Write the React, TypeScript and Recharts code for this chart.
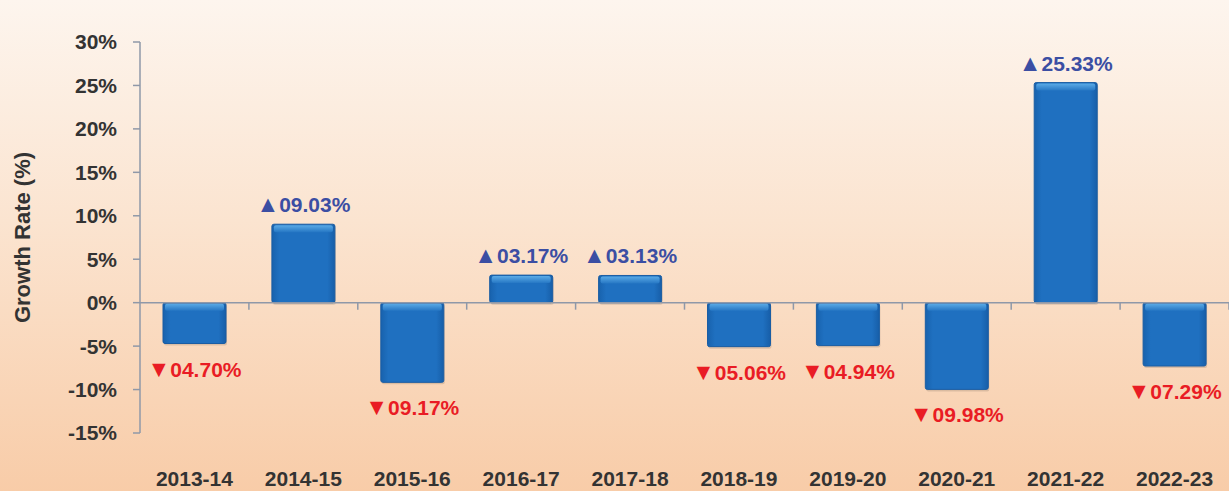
import React from "react"
import { BarChart, Bar, XAxis, YAxis, ReferenceLine, LabelList } from "recharts"

const years = ["2013-14", "2014-15", "2015-16", "2016-17", "2017-18", "2018-19", "2019-20", "2020-21", "2021-22", "2022-23"]
const growth = [-4.7, 9.03, -9.17, 3.17, 3.13, -5.06, -4.94, -9.98, 25.33, -7.29]
const yTicks = [-15, -10, -5, 0, 5, 10, 15, 20, 25, 30]

const data = years.map((year, i) => ({ year, growth: growth[i] }))

const W = 1229
const H = 491
const M = { top: 42, right: 0, bottom: 0, left: 0 }
const X_AXIS_H = 58
const Y_AXIS_W = 140
const Y_MIN = -15
const Y_MAX = 30

const FONT = "'Liberation Sans', Arial, sans-serif"
const AXIS_GREY = "#8f98a8"

// where the zero line sits, for the little tick marks between categories
const plotH = H - M.top - M.bottom - X_AXIS_H
const zeroY = M.top + (plotH * Y_MAX) / (Y_MAX - Y_MIN)
const bandW = (W - Y_AXIS_W - M.left - M.right) / years.length

const fmt = (v: number) => `${Math.abs(v).toFixed(2).padStart(5, "0")}%`

const XTick = (props: any) => {
  const { x, y, payload } = props
  return (
    <g>
      <line x1={x + bandW / 2} x2={x + bandW / 2} y1={zeroY} y2={zeroY + 7} stroke={AXIS_GREY} strokeWidth={1.5} />
      <text x={x} y={y} dy={45} textAnchor="middle" fill="#333333" fontSize={21} fontWeight="bold" fontFamily={FONT}>
        {payload.value}
      </text>
    </g>
  )
}

const BevelBar = (props: any) => {
  const { x, y, width, height } = props
  const top = Math.min(y, y + height)
  const h = Math.abs(height)
  return (
    <g>
      <rect x={x + 1} y={top + 2} width={width} height={h} fill="#000" opacity={0.12} rx={2} />
      <rect x={x} y={top} width={width} height={h} fill="url(#barBody)" stroke="#1a5da3" strokeWidth={1} rx={2} />
      <rect x={x + 2} y={top + 1} width={width - 4} height={Math.min(7, h - 2)} fill="url(#barTop)" rx={2} />
    </g>
  )
}

const ValueLabel = (props: any) => {
  const { x, y, width, height, value } = props
  const up = value >= 0
  const top = Math.min(y, y + height)
  const bottom = Math.max(y, y + height)
  const cy = up ? top - 19 : bottom + 26
  return (
    <text x={x + width / 2} y={cy} dy={7} textAnchor="middle" fontSize={21} fontWeight="bold" fontFamily={FONT} fill={up ? "#3b4ea3" : "#e91c24"}>
      <tspan fontSize={23}>{up ? "▲" : "▼"}</tspan>
      {fmt(value)}
    </text>
  )
}

export default function App() {
  return (
    <div style={{ width: W, height: H, background: "linear-gradient(180deg, #fdf5ee 0%, #fbe4d0 45%, #f8cca8 100%)" }}>
      <style>{`body{margin:0}`}</style>
      <BarChart width={W} height={H} data={data} margin={M} barSize={63}>
        <defs>
          <linearGradient id="barBody" x1="0" y1="0" x2="1" y2="0">
            <stop offset="0%" stopColor="#1862ad" />
            <stop offset="12%" stopColor="#1f70c0" />
            <stop offset="88%" stopColor="#1f70c0" />
            <stop offset="100%" stopColor="#175ea8" />
          </linearGradient>
          <linearGradient id="barTop" x1="0" y1="0" x2="0" y2="1">
            <stop offset="0%" stopColor="#5aaae6" />
            <stop offset="100%" stopColor="#2677c4" />
          </linearGradient>
        </defs>
        <XAxis
          dataKey="year"
          axisLine={false}
          tickLine={false}
          interval={0}
          tick={<XTick />}
          height={X_AXIS_H}
        />
        <YAxis
          width={Y_AXIS_W}
          domain={[Y_MIN, Y_MAX]}
          ticks={yTicks}
          interval={0}
          tickFormatter={(v: number) => `${v}%`}
          stroke={AXIS_GREY}
          strokeWidth={1.5}
          tickSize={7}
          tickMargin={16}
          tick={{ fill: "#333333", fontSize: 21, fontWeight: "bold", fontFamily: FONT }}
          label={{
            value: "Growth Rate (%)",
            angle: -90,
            position: "insideLeft",
            offset: 22,
            style: { fill: "#333333", fontSize: 22, fontWeight: "bold", fontFamily: FONT, textAnchor: "middle" },
          }}
        />
        <ReferenceLine y={0} stroke={AXIS_GREY} strokeWidth={1.5} />
        <Bar dataKey="growth" shape={<BevelBar />} isAnimationActive={false}>
          <LabelList dataKey="growth" content={<ValueLabel />} />
        </Bar>
      </BarChart>
    </div>
  )
}
